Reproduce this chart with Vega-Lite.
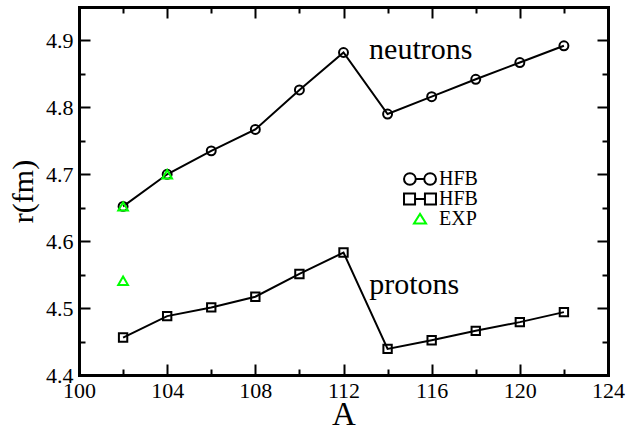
{
  "$schema": "https://vega.github.io/schema/vega-lite/v6.json",
  "width": 529,
  "height": 368,
  "autosize": {"type": "none"},
  "padding": {"left": 79, "top": 7, "right": 36, "bottom": 58},
  "background": "white",
  "config": {
    "view": {"stroke": null},
    "font": "Liberation Serif",
    "axis": {"labelFont": "Liberation Serif", "titleFont": "Liberation Serif", "grid": false, "tickColor": "black", "domainColor": "black", "tickWidth": 2, "domainWidth": 3, "domainCap": "square", "labelColor": "black", "titleColor": "black"},
    "legend": {"labelFont": "Liberation Serif"}
  },
  "datasets": {
    "main": [
      {"A": 102, "r": 4.652, "s": "n"},
      {"A": 104, "r": 4.700, "s": "n"},
      {"A": 106, "r": 4.735, "s": "n"},
      {"A": 108, "r": 4.767, "s": "n"},
      {"A": 110, "r": 4.826, "s": "n"},
      {"A": 112, "r": 4.882, "s": "n"},
      {"A": 114, "r": 4.790, "s": "n"},
      {"A": 116, "r": 4.816, "s": "n"},
      {"A": 118, "r": 4.842, "s": "n"},
      {"A": 120, "r": 4.867, "s": "n"},
      {"A": 122, "r": 4.892, "s": "n"},
      {"A": 102, "r": 4.456, "s": "p"},
      {"A": 104, "r": 4.488, "s": "p"},
      {"A": 106, "r": 4.501, "s": "p"},
      {"A": 108, "r": 4.517, "s": "p"},
      {"A": 110, "r": 4.551, "s": "p"},
      {"A": 112, "r": 4.583, "s": "p"},
      {"A": 114, "r": 4.439, "s": "p"},
      {"A": 116, "r": 4.452, "s": "p"},
      {"A": 118, "r": 4.466, "s": "p"},
      {"A": 120, "r": 4.479, "s": "p"},
      {"A": 122, "r": 4.494, "s": "p"},
      {"A": 102, "r": 4.652, "s": "e"},
      {"A": 104, "r": 4.700, "s": "e"},
      {"A": 102, "r": 4.541, "s": "e"}
    ],
    "notes": [
      {"x": 113.16, "y": 4.873, "t": "neutrons"},
      {"x": 113.17, "y": 4.521, "t": "protons"}
    ]
  },
  "layer": [
    {
      "data": {"name": "main"},
      "transform": [{"filter": "datum.s != 'e'"}],
      "mark": {"type": "line", "color": "black", "strokeWidth": 2},
      "encoding": {
        "x": {
          "field": "A", "type": "quantitative",
          "scale": {"domain": [100, 124], "nice": false, "zero": false},
          "axis": {
            "orient": "bottom",
            "values": [100, 104, 108, 112, 116, 120, 124],
            "format": "d",
            "labelFont": "Liberation Serif", "labelFontSize": 22,
            "labelFlush": false, "labelOverlap": false, "labelPadding": 16,
            "tickSize": -11,
            "title": "A", "titleFont": "Liberation Serif", "titleFontSize": 33,
            "titleFontWeight": "normal", "titlePadding": -3
          }
        },
        "y": {
          "field": "r", "type": "quantitative",
          "scale": {"domain": [4.4, 4.95], "nice": false, "zero": false},
          "axis": {
            "orient": "left",
            "values": [4.4, 4.5, 4.6, 4.7, 4.8, 4.9],
            "format": ".1f",
            "labelFont": "Liberation Serif", "labelFontSize": 22,
            "labelFlush": false, "labelOverlap": false, "labelPadding": 17,
            "tickSize": -11,
            "title": "r(fm)", "titleFont": "Liberation Serif", "titleFontSize": 30,
            "titleFontWeight": "normal", "titlePadding": 7
          }
        },
        "detail": {"field": "s"}
      }
    },
    {
      "data": {"name": "main"},
      "transform": [{"filter": "datum.s == 'n'"}],
      "mark": {"type": "point", "shape": "circle", "filled": false, "color": "black", "strokeWidth": 2, "size": 80, "opacity": 1},
      "encoding": {
        "x": {"field": "A", "type": "quantitative", "axis": {"orient": "bottom", "values": [102, 106, 110, 114, 118, 122], "labels": false, "tickSize": -6, "domain": false, "title": null}},
        "y": {"field": "r", "type": "quantitative", "axis": {"orient": "left", "values": [4.45, 4.55, 4.65, 4.75, 4.85], "labels": false, "tickSize": -6, "domain": false, "title": null}}
      }
    },
    {
      "data": {"name": "main"},
      "transform": [{"filter": "datum.s == 'p'"}],
      "mark": {"type": "point", "shape": "square", "filled": false, "color": "black", "strokeWidth": 2, "size": 70, "opacity": 1},
      "encoding": {
        "x": {"field": "A", "type": "quantitative", "axis": {"orient": "top", "values": [100, 104, 108, 112, 116, 120, 124], "labels": false, "tickSize": -11, "title": null}},
        "y": {"field": "r", "type": "quantitative", "axis": {"orient": "right", "values": [4.4, 4.5, 4.6, 4.7, 4.8, 4.9], "labels": false, "tickSize": -11, "title": null}}
      }
    },
    {
      "data": {"name": "main"},
      "transform": [{"filter": "datum.s == 'e'"}],
      "mark": {"type": "point", "shape": "triangle-up", "filled": false, "color": "#00ff00", "strokeWidth": 2, "size": 95, "opacity": 1},
      "encoding": {
        "x": {"field": "A", "type": "quantitative", "axis": {"orient": "top", "values": [102, 106, 110, 114, 118, 122], "labels": false, "tickSize": -6, "domain": false, "title": null}},
        "y": {"field": "r", "type": "quantitative", "axis": {"orient": "right", "values": [4.45, 4.55, 4.65, 4.75, 4.85], "labels": false, "tickSize": -6, "domain": false, "title": null}}
      }
    },
    {
      "data": {"name": "main"},
      "mark": {"type": "point", "filled": false, "strokeWidth": 2, "opacity": 0},
      "encoding": {
        "x": {"field": "A", "type": "quantitative", "axis": null},
        "y": {"field": "r", "type": "quantitative", "axis": null},
        "shape": {
          "field": "s", "type": "nominal",
          "scale": {
            "domain": ["n", "p", "e"],
            "range": [
              "M-2.26,0 A0.83,0.83 0 1,1 -0.6,0 A0.83,0.83 0 1,1 -2.26,0 M-0.6,0 L0.6,0 M0.6,0 A0.83,0.83 0 1,1 2.26,0 A0.83,0.83 0 1,1 0.6,0",
              "M-2.26,-0.78 L-0.7,-0.78 L-0.7,0.78 L-2.26,0.78 Z M-0.7,0 L0.7,0 M0.7,-0.78 L2.26,-0.78 L2.26,0.78 L0.7,0.78 Z",
              "M0,-0.72 L0.85,0.62 L-0.85,0.62 Z"
            ]
          },
          "legend": {
            "orient": "none", "legendX": 331, "legendY": 162, "title": null,
            "labelExpr": "datum.value == 'e' ? 'EXP' : 'HFB'",
            "labelFont": "Liberation Serif", "labelFontSize": 20, "labelColor": "black",
            "symbolSize": 200, "symbolStrokeWidth": 2, "symbolFillColor": "transparent",
            "labelOffset": 9, "rowPadding": -7, "padding": 0,
            "encode": {"symbols": {"update": {"opacity": {"value": 1}}}}
          }
        },
        "color": {
          "field": "s", "type": "nominal",
          "scale": {"domain": ["n", "p", "e"], "range": ["black", "black", "#00ff00"]},
          "legend": {
            "orient": "none", "legendX": 331, "legendY": 162, "title": null,
            "labelExpr": "datum.value == 'e' ? 'EXP' : 'HFB'",
            "labelFont": "Liberation Serif", "labelFontSize": 20, "labelColor": "black",
            "symbolSize": 200, "symbolStrokeWidth": 2, "symbolFillColor": "transparent",
            "labelOffset": 9, "rowPadding": -7, "padding": 0,
            "encode": {"symbols": {"update": {"opacity": {"value": 1}}}}
          }
        }
      }
    },
    {
      "data": {"name": "notes"},
      "mark": {"type": "text", "align": "left", "baseline": "alphabetic", "font": "Liberation Serif", "fontSize": 30, "color": "black"},
      "encoding": {
        "x": {"field": "x", "type": "quantitative", "axis": null},
        "y": {"field": "y", "type": "quantitative", "axis": null},
        "text": {"field": "t"}
      }
    }
  ],
  "resolve": {"axis": {"x": "independent", "y": "independent"}}
}
